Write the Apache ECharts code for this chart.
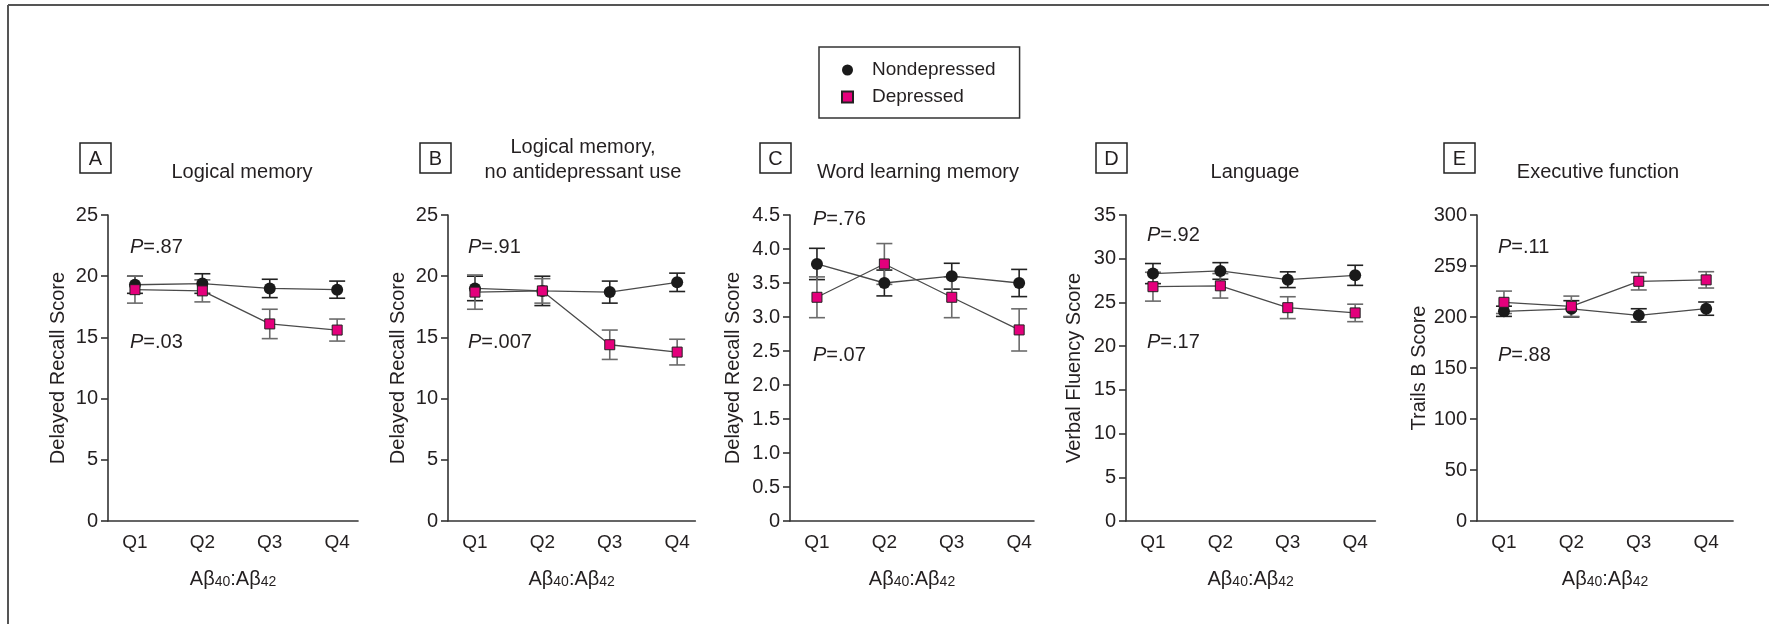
<!DOCTYPE html>
<html>
<head>
<meta charset="utf-8">
<script src="https://cdn.jsdelivr.net/npm/echarts@6/dist/echarts.min.js"></script>
<style>html,body{margin:0;padding:0;background:#fff}#c{width:1769px;height:624px}</style>
</head>
<body>
<div id="c"></div>
<script>
// ---------- DATA ----------
const quarters = ['Q1', 'Q2', 'Q3', 'Q4'];
const seriesNames = ['Nondepressed', 'Depressed'];

// A: Logical memory
const aNon = [19.3, 19.4, 19.0, 18.9];
const aNonErr = [0.7, 0.8, 0.75, 0.7];
const aDep = [18.9, 18.8, 16.1, 15.6];
const aDepErr = [1.1, 0.9, 1.2, 0.9];
// B: Logical memory, no antidepressant use
const bNon = [19.0, 18.8, 18.7, 19.5];
const bNonErr = [1.0, 1.2, 0.9, 0.75];
const bDep = [18.7, 18.8, 14.4, 13.8];
const bDepErr = [1.4, 1.0, 1.2, 1.05];
// C: Word learning memory
const cNon = [3.78, 3.50, 3.60, 3.50];
const cNonErr = [0.23, 0.19, 0.19, 0.2];
const cDep = [3.29, 3.78, 3.29, 2.81];
const cDepErr = [0.3, 0.3, 0.3, 0.31];
// D: Language
const dNon = [28.3, 28.6, 27.6, 28.1];
const dNonErr = [1.15, 0.95, 0.9, 1.15];
const dDep = [26.8, 26.9, 24.4, 23.8];
const dDepErr = [1.65, 1.4, 1.25, 1.0];
// E: Executive function
const eNon = [205.6, 208.0, 201.6, 208.2];
const eNonErr = [5, 8, 6.5, 6.5];
const eDep = [214.4, 210.5, 235.0, 236.4];
const eDepErr = [11, 10, 8.5, 8];

// tick labels
const cTickLabels = ['0', '0.5', '1.0', '1.5', '2.0', '2.5', '3.0', '3.5', '4.0', '4.5'];
const eTickLabels = ['0', '50', '100', '150', '200', '259', '300'];

// texts
const panelLetters = ['A', 'B', 'C', 'D', 'E'];
const panelTitles = [['Logical memory'], ['Logical memory,', 'no antidepressant use'], ['Word learning memory'], ['Language'], ['Executive function']];
const yNames = ['Delayed Recall Score', 'Delayed Recall Score', 'Delayed Recall Score', 'Verbal Fluency Score', 'Trails B Score'];
const pTop = ['.87', '.91', '.76', '.92', '.11'];
const pBottom = ['.03', '.007', '.07', '.17', '.88'];

// ---------- LAYOUT / STYLE ----------
const FONT = "'Liberation Sans', Arial, sans-serif";
const TXT = '#231f20';
const PINK = '#e4007c';
const layout = [
  {left: 108, xMax: 4.31, yMax: 25, yInt: 5, gap: 40, box: 80, title: 242, pX: 130, pTopY: 247, pBotY: 342},
  {left: 448, xMax: 4.27, yMax: 25, yInt: 5, gap: 40, box: 420, title: 583, pX: 468, pTopY: 247, pBotY: 342},
  {left: 790, xMax: 4.22, yMax: 4.5, yInt: 0.5, gap: 47, box: 760, title: 918, pX: 813, pTopY: 219, pBotY: 355},
  {left: 1126, xMax: 4.3, yMax: 35, yInt: 5, gap: 42, box: 1096, title: 1255, pX: 1147, pTopY: 235, pBotY: 342},
  {left: 1477, xMax: 4.4, yMax: 300, yInt: 50, gap: 48, box: 1444, title: 1598, pX: 1498, pTopY: 247, pBotY: 355}
];
const PX_PER_Q = 67.4;
const XMIN = 0.6;

const nonData = [aNon, bNon, cNon, dNon, eNon];
const nonErrs = [aNonErr, bNonErr, cNonErr, dNonErr, eNonErr];
const depData = [aDep, bDep, cDep, dDep, eDep];
const depErrs = [aDepErr, bDepErr, cDepErr, dDepErr, eDepErr];
const yFormatters = [null, null, v => cTickLabels[Math.round(v / 0.5)], null, v => eTickLabels[Math.round(v / 50)]];

function errRenderer(color) {
  return function (params, api) {
    const x = api.value(0), lo = api.value(1), hi = api.value(2);
    const t = api.coord([x, hi]);
    const b = api.coord([x, lo]);
    const hw = 8;
    const st = {stroke: color, lineWidth: 1.6};
    return {type: 'group', children: [
      {type: 'line', shape: {x1: t[0], y1: t[1], x2: b[0], y2: b[1]}, style: st},
      {type: 'line', shape: {x1: t[0] - hw, y1: t[1], x2: t[0] + hw, y2: t[1]}, style: st},
      {type: 'line', shape: {x1: b[0] - hw, y1: b[1], x2: b[0] + hw, y2: b[1]}, style: st}
    ]};
  };
}

const grids = [], xAxes = [], yAxes = [], series = [], graphics = [];

layout.forEach((L, i) => {
  const width = (L.xMax - XMIN) * PX_PER_Q;
  grids.push({left: L.left, top: 215, width: width, height: 306});
  xAxes.push({
    type: 'value', gridIndex: i, min: XMIN, max: L.xMax,
    axisLine: {show: true, lineStyle: {color: '#333', width: 1.6}},
    axisTick: {show: false},
    splitLine: {show: false},
    axisLabel: {
      customValues: [1, 2, 3, 4],
      formatter: v => quarters[Math.round(v) - 1],
      color: TXT, fontFamily: FONT, fontSize: 19, margin: 12
    },
    name: '{n|A\u03b2}{s|40}{n|:A\u03b2}{s|42}',
    nameLocation: 'middle', nameGap: 44,
    nameTextStyle: {
      rich: {
        n: {fontFamily: FONT, fontSize: 20, color: TXT, verticalAlign: 'bottom', lineHeight: 24},
        s: {fontFamily: FONT, fontSize: 14, color: TXT, verticalAlign: 'bottom', lineHeight: 18}
      }
    }
  });
  const yAx = {
    type: 'value', gridIndex: i, min: 0, max: L.yMax, interval: L.yInt,
    axisLine: {show: true, lineStyle: {color: '#333', width: 1.6}},
    axisTick: {show: true, length: 7, lineStyle: {color: '#333', width: 1.6}},
    splitLine: {show: false},
    axisLabel: {color: TXT, fontFamily: FONT, fontSize: 20, margin: 10},
    name: yNames[i], nameLocation: 'middle', nameGap: L.gap,
    nameTextStyle: {color: TXT, fontFamily: FONT, fontSize: 20}
  };
  if (yFormatters[i]) yAx.axisLabel.formatter = yFormatters[i];
  yAxes.push(yAx);

  const xs = [1, 2, 3, 4];
  series.push({
    type: 'custom', name: 'errNon' + i, xAxisIndex: i, yAxisIndex: i, z: 2,
    renderItem: errRenderer('#222'),
    encode: {x: 0, y: [1, 2]},
    data: xs.map((x, k) => [x, nonData[i][k] - nonErrs[i][k], nonData[i][k] + nonErrs[i][k]])
  });
  series.push({
    type: 'custom', name: 'errDep' + i, xAxisIndex: i, yAxisIndex: i, z: 2,
    renderItem: errRenderer('#6b6b6b'),
    encode: {x: 0, y: [1, 2]},
    data: xs.map((x, k) => [x, depData[i][k] - depErrs[i][k], depData[i][k] + depErrs[i][k]])
  });
  series.push({
    type: 'line', name: seriesNames[0], xAxisIndex: i, yAxisIndex: i, z: 3,
    symbol: 'circle', symbolSize: 12,
    itemStyle: {color: '#1a1a1a'},
    lineStyle: {color: '#4a4a4a', width: 1.3},
    data: xs.map((x, k) => [x, nonData[i][k]])
  });
  series.push({
    type: 'line', name: seriesNames[1], xAxisIndex: i, yAxisIndex: i, z: 4,
    symbol: 'rect', symbolSize: 10,
    itemStyle: {color: PINK, borderColor: '#222', borderWidth: 1},
    lineStyle: {color: '#4a4a4a', width: 1.3},
    data: xs.map((x, k) => [x, depData[i][k]])
  });

  // panel letter box
  graphics.push({type: 'rect', shape: {x: L.box, y: 143, width: 31, height: 30},
    style: {fill: 'none', stroke: '#222', lineWidth: 1.5}});
  graphics.push({type: 'text', x: L.box + 15.5, y: 159,
    style: {text: panelLetters[i], font: '20px ' + FONT, fill: TXT, align: 'center', verticalAlign: 'middle'}});
  // panel title
  const t = panelTitles[i];
  if (t.length === 1) {
    graphics.push({type: 'text', x: L.title, y: 172,
      style: {text: t[0], font: '20px ' + FONT, fill: TXT, align: 'center', verticalAlign: 'middle'}});
  } else {
    graphics.push({type: 'text', x: L.title, y: 147,
      style: {text: t[0], font: '20px ' + FONT, fill: TXT, align: 'center', verticalAlign: 'middle'}});
    graphics.push({type: 'text', x: L.title, y: 172,
      style: {text: t[1], font: '20px ' + FONT, fill: TXT, align: 'center', verticalAlign: 'middle'}});
  }
  // P-values
  [[pTop[i], L.pTopY], [pBottom[i], L.pBotY]].forEach(([p, y]) => {
    graphics.push({type: 'text', x: L.pX, y: y,
      style: {text: '{i|P}{n|=' + p + '}', align: 'left', verticalAlign: 'middle',
        rich: {i: {fontStyle: 'italic', fontFamily: FONT, fontSize: 20, fill: TXT},
               n: {fontFamily: FONT, fontSize: 20, fill: TXT}}}});
  });
});

// frame lines
graphics.push({type: 'line', shape: {x1: 8, y1: 5, x2: 1769, y2: 5}, style: {stroke: '#555', lineWidth: 2}});
graphics.push({type: 'line', shape: {x1: 8, y1: 5, x2: 8, y2: 624}, style: {stroke: '#555', lineWidth: 2}});

const chart = echarts.init(document.getElementById('c'), null, {renderer: 'canvas'});
chart.setOption({
  animation: false,
  backgroundColor: '#fff',
  grid: grids,
  xAxis: xAxes,
  yAxis: yAxes,
  legend: {
    left: 819, top: 47, orient: 'vertical',
    data: [{name: seriesNames[0], icon: 'circle'}, {name: seriesNames[1], icon: 'rect'}],
    itemWidth: 11, itemHeight: 11, itemGap: 7,
    borderColor: '#333', borderWidth: 1.5, padding: [13, 24, 11, 22],
    textStyle: {color: TXT, fontFamily: FONT, fontSize: 19, lineHeight: 20, padding: [0, 0, 0, 14]}
  },
  series: series,
  graphic: graphics
});
</script>
</body>
</html>
